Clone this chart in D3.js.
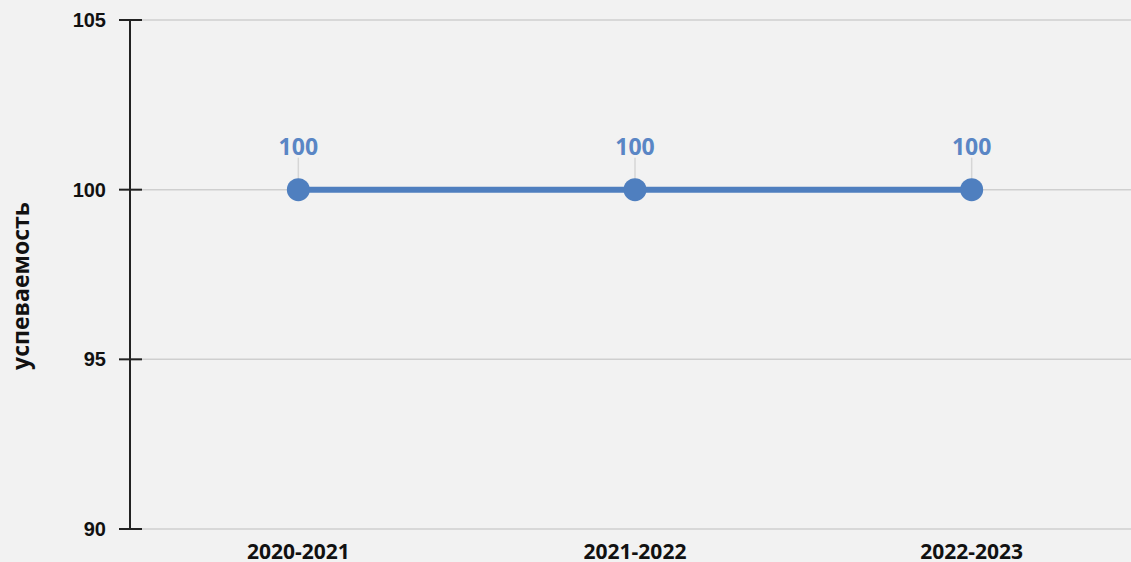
<!DOCTYPE html>
<html>
<head>
<meta charset="utf-8">
<script src="https://cdn.jsdelivr.net/npm/d3@7"></script>
<style>
  body { margin: 0; background: #f2f2f2; }
  svg { display: block; font-family: "Open Sans", "Noto Sans", sans-serif; }
</style>
</head>
<body>
<svg id="vis"></svg>
<script>
var years = ["2020-2021", "2021-2022", "2022-2023"];
var values = [100, 100, 100];
var yTicks = [90, 95, 100, 105];

var width = 1131, height = 562;
var margin = {top: 20, right: -9, bottom: 33, left: 130};

var svg = d3.select("#vis")
    .attr("width", width)
    .attr("height", height);

var xScale = d3.scaleBand()
    .domain(years)
    .range([margin.left, width - margin.right]);

var yScale = d3.scaleLinear()
    .domain([90, 105])
    .range([height - margin.bottom, margin.top]);

// grid
svg.append("g")
    .selectAll("line")
    .data(yTicks)
    .enter().append("line")
    .attr("x1", margin.left)
    .attr("x2", width)
    .attr("y1", function (d) { return yScale(d); })
    .attr("y2", function (d) { return yScale(d); })
    .style("stroke", "#cfcfcf")
    .style("stroke-width", 1.5);

// y axis
var yAxis = d3.axisLeft(yScale)
    .tickValues(yTicks)
    .tickSize(0)
    .tickPadding(24);

var yg = svg.append("g")
    .attr("transform", "translate(" + margin.left + ",0)")
    .call(yAxis);
yg.select(".domain").remove();
yg.selectAll("text")
    .style("font-size", "20px")
    .style("font-weight", "bold")
    .style("fill", "#111");

svg.append("line")
    .attr("x1", margin.left).attr("x2", margin.left)
    .attr("y1", yScale(105)).attr("y2", yScale(90))
    .style("stroke", "#222").style("stroke-width", 2);

svg.append("g")
    .selectAll("line")
    .data(yTicks)
    .enter().append("line")
    .attr("x1", margin.left - 11)
    .attr("x2", margin.left + 12)
    .attr("y1", function (d) { return yScale(d); })
    .attr("y2", function (d) { return yScale(d); })
    .style("stroke", "#222")
    .style("stroke-width", 2);

// x labels
svg.append("g")
    .selectAll("text")
    .data(years)
    .enter().append("text")
    .attr("x", function (d) { return xScale(d) + xScale.bandwidth() / 2; })
    .attr("y", height - 3)
    .style("text-anchor", "middle")
    .style("font-size", "21px")
    .style("font-weight", "bold")
    .style("fill", "#111")
    .text(function (d) { return d; });

// y title
svg.append("text")
    .attr("transform", "translate(29," + 286 + ") rotate(-90)")
    .style("text-anchor", "middle")
    .style("font-size", "23px")
    .style("font-weight", "bold")
    .style("fill", "#111")
    .text("успеваемость");

var cx = function (d, i) { return xScale(years[i]) + xScale.bandwidth() / 2; };

// leader lines
svg.append("g")
    .selectAll("line")
    .data(values)
    .enter().append("line")
    .attr("x1", cx).attr("x2", cx)
    .attr("y1", function (d) { return yScale(d) - 32; })
    .attr("y2", function (d) { return yScale(d); })
    .style("stroke", "#d6d6d6")
    .style("stroke-width", 1.5);

var line = d3.line()
    .x(cx)
    .y(function (d) { return yScale(d); });

svg.append("path")
    .datum(values)
    .attr("d", line)
    .style("fill", "none")
    .style("stroke", "#4f7fbf")
    .style("stroke-width", 6);

svg.append("g")
    .selectAll("circle")
    .data(values)
    .enter().append("circle")
    .attr("cx", cx)
    .attr("cy", function (d) { return yScale(d); })
    .attr("r", 11.5)
    .style("fill", "#4f7fbf");

svg.append("g")
    .selectAll("text")
    .data(values)
    .enter().append("text")
    .attr("x", cx)
    .attr("y", function (d) { return yScale(d) - 35; })
    .style("text-anchor", "middle")
    .style("font-size", "23px")
    .style("font-weight", "bold")
    .style("fill", "#5a86c5")
    .text(function (d) { return d; });
</script>
</body>
</html>
